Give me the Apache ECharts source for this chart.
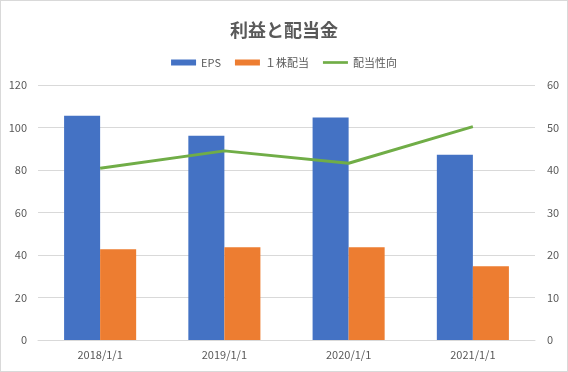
<!DOCTYPE html>
<html><head><meta charset="utf-8">
<script src="https://cdn.jsdelivr.net/npm/echarts@6/dist/echarts.min.js"></script>
<style>
html,body{margin:0;padding:0;background:#fff;}
#c{position:absolute;left:0;top:0;width:566px;height:370px;border:1px solid #d9d9d9;}
</style></head>
<body><div id="c"></div>
<script>
const categories = ['2018/1/1','2019/1/1','2020/1/1','2021/1/1'];
const eps = [105.5, 96.1, 104.7, 87.2];
const dividend = [42.7, 43.6, 43.6, 34.7];
const payout = [40.4, 44.5, 41.6, 50.2];
const leftTicks = [0,20,40,60,80,100,120];
const rightTicks = [0,10,20,30,40,50,60];

const font = '"Noto Sans CJK JP", "Noto Sans", sans-serif';
const chart = echarts.init(document.getElementById('c'));
chart.setOption({
  animation:false,
  textStyle:{fontFamily:font},
  title:{text:'利益と配当金',left:'center',top:15,textStyle:{fontSize:18,fontWeight:'bold',color:'#595959',fontFamily:font}},
  legend:{top:51,left:'center',itemGap:14,itemWidth:25,itemHeight:6,textStyle:{color:'#595959',fontSize:11,fontFamily:font},
    data:[{name:'EPS',icon:'rect'},{name:'１株配当',icon:'rect'},{name:'配当性向',icon:'path://M0,0h28v3h-28z'}]},
  grid:{left:37,right:32,top:84,bottom:31,containLabel:false,outerBoundsMode:'none'},
  xAxis:{type:'category',data:categories,axisTick:{show:false},
    axisLine:{lineStyle:{color:'#d9d9d9'}},
    axisLabel:{color:'#595959',fontSize:11,margin:9}},
  yAxis:[
    {type:'value',min:leftTicks[0],max:leftTicks[leftTicks.length-1],interval:20,
     axisLabel:{color:'#595959',fontSize:11,margin:11,align:'right'},
     splitLine:{lineStyle:{color:'#d9d9d9'}},axisLine:{show:false},axisTick:{show:false}},
    {type:'value',min:rightTicks[0],max:rightTicks[rightTicks.length-1],interval:10,
     axisLabel:{color:'#595959',fontSize:11,margin:12},
     splitLine:{show:false},axisLine:{show:false},axisTick:{show:false}}
  ],
  series:[
    {name:'EPS',type:'bar',data:eps,itemStyle:{color:'#4472C4'},barGap:'0%',barCategoryGap:'42%'},
    {name:'１株配当',type:'bar',data:dividend,itemStyle:{color:'#ED7D31'}},
    {name:'配当性向',type:'line',yAxisIndex:1,data:payout,symbol:'none',
     lineStyle:{color:'#70AD47',width:3},itemStyle:{color:'#70AD47'}}
  ]
});
</script></body></html>
